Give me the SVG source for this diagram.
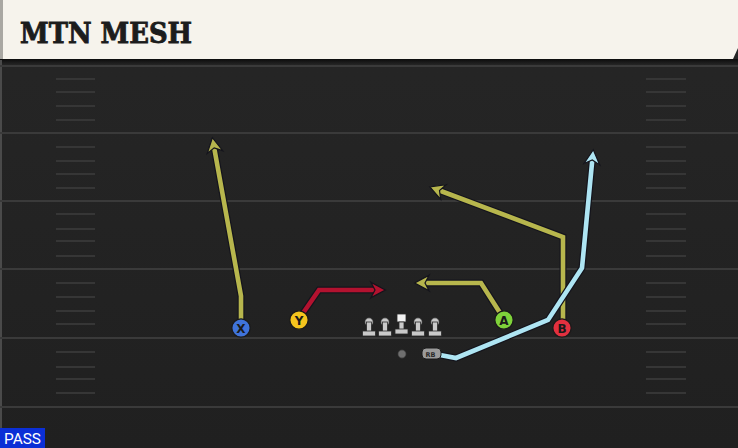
<svg xmlns="http://www.w3.org/2000/svg" width="738" height="448" viewBox="0 0 738 448">
<defs>
<style>
.yl{stroke:#3a3a3a;stroke-width:2}
.hm{stroke:#363636;stroke-width:2}
.out{fill:none;stroke:#14141c;stroke-width:7;stroke-linejoin:miter}
.rt{fill:none;stroke-width:4.6;stroke-linejoin:miter}
.ylw{stroke:#b7b64d}
.red{stroke:#b3122f}
.blu{stroke:#aee5f3}
.pl{stroke:#1a1a1a;stroke-width:1.3}
.lbl{font-family:"DejaVu Sans","Liberation Sans",sans-serif;font-weight:bold;font-size:12px;fill:#1a1a1a;text-anchor:middle}
.ol{fill:#c9c9c9;stroke:#2a2a2a;stroke-width:0.8}
</style>
<marker id="aY" markerUnits="userSpaceOnUse" markerWidth="17" markerHeight="17" viewBox="0 0 14 14" refX="4.5" refY="7" orient="auto" overflow="visible"><polygon points="13,7 1,0.5 4.5,7 1,13.5" fill="#b7b64d" stroke="#14141c" stroke-width="1"/></marker>
<marker id="aR" markerUnits="userSpaceOnUse" markerWidth="17" markerHeight="17" viewBox="0 0 14 14" refX="4.5" refY="7" orient="auto" overflow="visible"><polygon points="13,7 1,0.5 4.5,7 1,13.5" fill="#b3122f" stroke="#14141c" stroke-width="1"/></marker>
<marker id="aB" markerUnits="userSpaceOnUse" markerWidth="17" markerHeight="17" viewBox="0 0 14 14" refX="4.5" refY="7" orient="auto" overflow="visible"><polygon points="13,7 1,0.5 4.5,7 1,13.5" fill="#aee5f3" stroke="#14141c" stroke-width="1"/></marker>
<linearGradient id="fg" x1="0" y1="0" x2="0" y2="1"><stop offset="0" stop-color="#262626"/><stop offset="1" stop-color="#202020"/></linearGradient>
<linearGradient id="sh" x1="0" y1="0" x2="0" y2="1"><stop offset="0" stop-color="#0c0c0c"/><stop offset="1" stop-color="#262626"/></linearGradient>
</defs>

<g id="field">
<rect x="0" y="0" width="738" height="448" fill="url(#fg)"/>
<rect x="0" y="59" width="738" height="6" fill="url(#sh)"/>
<rect x="0" y="60" width="2" height="388" fill="#4a4a4a"/>
<g class="yl">
<line x1="0" y1="66" x2="738" y2="66"/>
<line x1="0" y1="133" x2="738" y2="133"/>
<line x1="0" y1="201" x2="738" y2="201"/>
<line x1="0" y1="269" x2="738" y2="269"/>
<line x1="0" y1="338" x2="738" y2="338"/>
<line x1="0" y1="407" x2="738" y2="407"/>
</g>
<g class="hm">
<path d="M56,79H95M56,92H95M56,106H95M56,120H95M56,147H95M56,161H95M56,174H95M56,188H95M56,214H95M56,229H95M56,241H95M56,256H95M56,283H95M56,297H95M56,311H95M56,324H95M56,352H95M56,367H95M56,379H95M56,393H95"/>
<path d="M646,79H686M646,92H686M646,106H686M646,120H686M646,147H686M646,161H686M646,174H686M646,188H686M646,214H686M646,229H686M646,241H686M646,256H686M646,283H686M646,297H686M646,311H686M646,324H686M646,352H686M646,367H686M646,379H686M646,393H686"/>
</g>
</g>

<g id="title">
<path d="M0,0H738V48L733,59H0Z" fill="#f6f3ec"/>
<rect x="0" y="0" width="3" height="59" fill="#a9a7a2"/>
<text x="20" y="43" font-family="'DejaVu Serif','Liberation Serif',serif" font-weight="bold" font-size="28" textLength="172" lengthAdjust="spacingAndGlyphs" fill="#1c1c1c" stroke="#1c1c1c" stroke-width="0.9">MTN MESH</text>
</g>

<g id="connectors">
<polyline class="out" points="241,321 241,296 214.2,147.9"/>
<polyline class="rt ylw" points="241,321 241,296 214.2,147.9" marker-end="url(#aY)"/>
<polyline class="out" points="301,316 319,290 375,290"/>
<polyline class="rt red" points="301,316 319,290 375,290" marker-end="url(#aR)"/>
<polyline class="out" points="502,316 481,283 425,283"/>
<polyline class="rt ylw" points="502,316 481,283 425,283" marker-end="url(#aY)"/>
<polyline class="out" points="563,321 563,237 439.5,190.5"/>
<polyline class="rt ylw" points="563,321 563,237 439.5,190.5" marker-end="url(#aY)"/>
<polyline class="out" points="440,355 456,358 548,320 582,268 592.3,160"/>
<polyline class="rt blu" points="440,355 456,358 548,320 582,268 592.3,160" marker-end="url(#aB)"/>
</g>

<g id="line">
<g id="lt"><circle cx="369" cy="322" r="4.2" class="ol"/><rect x="366.5" y="322" width="5" height="10" class="ol"/><rect x="362.5" y="331" width="13" height="5" class="ol"/></g>
<g id="lg"><circle cx="385" cy="322" r="4.2" class="ol"/><rect x="382.5" y="322" width="5" height="10" class="ol"/><rect x="378.5" y="331" width="13" height="5" class="ol"/></g>
<g id="c"><rect x="397" y="314" width="9" height="8" fill="#f2f2f2" stroke="#2a2a2a" stroke-width="0.8"/><rect x="399" y="322" width="5" height="8" class="ol"/><rect x="395" y="329" width="13" height="5" class="ol"/></g>
<g id="rg"><circle cx="418" cy="322" r="4.2" class="ol"/><rect x="415.5" y="322" width="5" height="10" class="ol"/><rect x="411.5" y="331" width="13" height="5" class="ol"/></g>
<g id="rt"><circle cx="435" cy="322" r="4.2" class="ol"/><rect x="432.5" y="322" width="5" height="10" class="ol"/><rect x="428.5" y="331" width="13" height="5" class="ol"/></g>
</g>
<g id="qb"><circle cx="402" cy="354" r="4.2" fill="#6f6f6f" stroke="#2a2a2a" stroke-width="0.8"/></g>
<g id="rb"><rect x="422" y="348" width="19" height="11" rx="4" fill="#9b9b9b" stroke="#1a1a1a" stroke-width="1"/><text x="430.5" y="356.5" font-family="'DejaVu Sans',sans-serif" font-weight="bold" font-size="6.5" fill="#2a2a2a" text-anchor="middle">RB</text></g>

<g id="X"><circle cx="241" cy="328" r="9.2" fill="#3f73da" class="pl"/><text x="241" y="332.5" class="lbl">X</text></g>
<g id="Y"><circle cx="299" cy="320" r="9.2" fill="#f5c51d" class="pl"/><text x="299" y="324.5" class="lbl">Y</text></g>
<g id="A"><circle cx="504" cy="320" r="9.2" fill="#7fd33a" class="pl"/><text x="504" y="324.5" class="lbl">A</text></g>
<g id="B"><circle cx="562" cy="328" r="9.2" fill="#e3303f" class="pl"/><text x="562" y="332.5" class="lbl">B</text></g>

<g id="pass"><rect x="0" y="428" width="45" height="20" fill="#0b2fd6"/><text x="4" y="443.5" font-family="Roboto,'Liberation Sans',sans-serif" font-size="14" fill="#ffffff" textLength="37" lengthAdjust="spacingAndGlyphs">PASS</text></g>
</svg>
